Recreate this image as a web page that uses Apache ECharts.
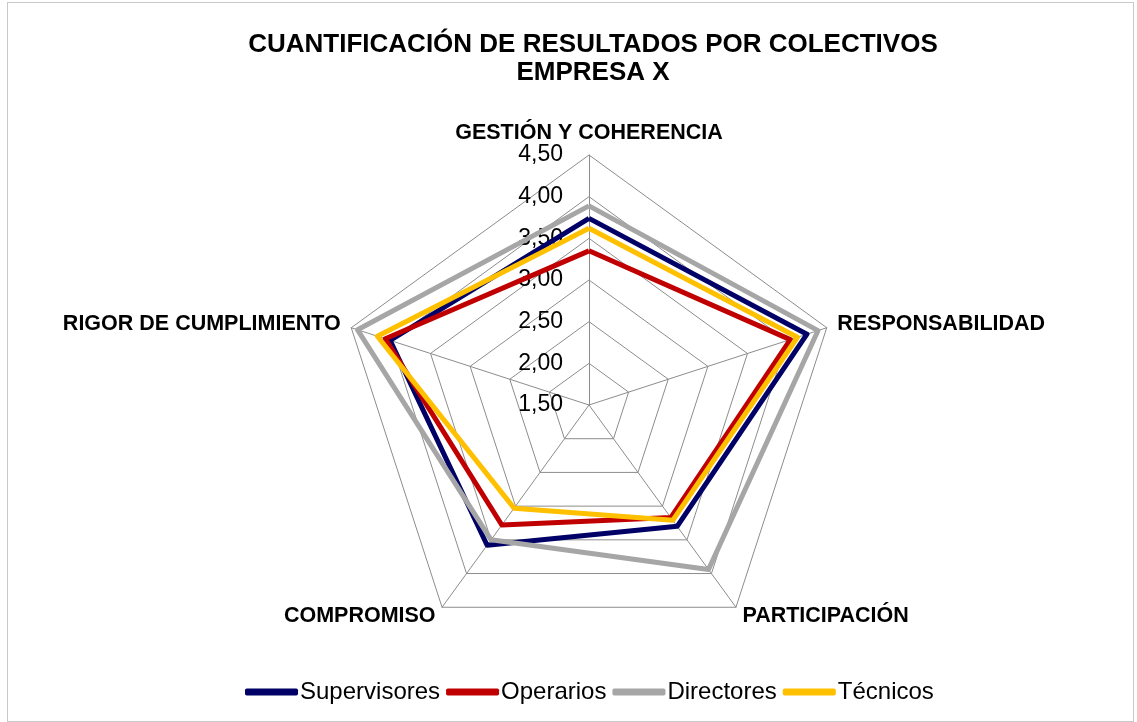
<!DOCTYPE html>
<html>
<head>
<meta charset="utf-8">
<script src="https://cdn.jsdelivr.net/npm/echarts@6/dist/echarts.min.js"></script>
<style>
html,body{margin:0;padding:0;background:#fff;}
#chart{width:1137px;height:722px;}
</style>
</head>
<body>
<div id="chart"></div>
<script>
// ejes del radar (orden antihorario desde arriba)
var indicadores = ['GESTIÓN Y COHERENCIA', 'RIGOR DE CUMPLIMIENTO', 'COMPROMISO', 'PARTICIPACIÓN', 'RESPONSABILIDAD'];
var colectivos = ['Supervisores', 'Operarios', 'Directores', 'Técnicos'];
var supervisores = [3.74, 4.01, 3.58, 3.30, 4.25];
var operarios = [3.35, 4.07, 3.28, 3.17, 4.04];
var directores = [3.89, 4.42, 3.50, 3.94, 4.39];
var tecnicos = [3.62, 4.17, 3.03, 3.21, 4.13];
var colores = ['#000066', '#c00000', '#a6a6a6', '#ffc000'];
var escalaMin = 1.5, escalaMax = 4.5;

var chart = echarts.init(document.getElementById('chart'));

var indicator = indicadores.map(function (n, i) {
	var o = {name: n, min: escalaMin, max: escalaMax};
	if (i > 0) o.axisLabel = {show: false};//solo etiquetas en el eje superior
	return o;
});

var valores = [supervisores, operarios, directores, tecnicos];
var datos = colectivos.map(function (c, i) {
	return {
		name: c,
		value: valores[i],
		symbol: 'none',
		lineStyle: {color: colores[i], width: 5},
		itemStyle: {color: colores[i]}
	};
});

var option = {
	animation: false,
	title: {
		text: 'CUANTIFICACIÓN DE RESULTADOS POR COLECTIVOS\nEMPRESA X',
		left: 588,
		textAlign: 'center',
		top: 26,
		textStyle: {fontFamily: 'Liberation Sans, Arial', fontSize: 26, fontWeight: 'bold', color: '#000', lineHeight: 28}
	},
	legend: {
		top: 675,
		left: 240,
		itemWidth: 53,
		itemHeight: 7,
		itemGap: 6,
		icon: 'roundRect',
		data: colectivos,
		textStyle: {fontFamily: 'Liberation Sans, Arial', fontSize: 24, color: '#000', padding: [0, 0, 0, -3]}
	},
	radar: {
		center: [589, 405],
		radius: 250,
		shape: 'polygon',
		splitNumber: 6,
		nameGap: 11,
		axisName: {fontFamily: 'Liberation Sans, Arial', fontSize: 21.5, fontWeight: 'bold', color: '#000'},
		axisLine: {lineStyle: {color: '#8c8c8c', width: 1}},
		splitLine: {lineStyle: {color: '#8c8c8c', width: 1}},
		splitArea: {show: false},
		axisTick: {show: false},
		axisLabel: {
			show: true,
			fontFamily: 'Liberation Sans, Arial',
			fontSize: 23,
			color: '#000',
			margin: 26,
			formatter: function (v) { return v.toFixed(2).replace('.', ','); }
		},
		indicator: indicator
	},
	series: [{
		type: 'radar',
		data: datos
	}]
};
chart.setOption(option);
</script>
<div style="position:absolute;left:7px;top:2px;width:1125px;height:718px;border:1px solid #c8c8c8;pointer-events:none;"></div>
</body>
</html>
